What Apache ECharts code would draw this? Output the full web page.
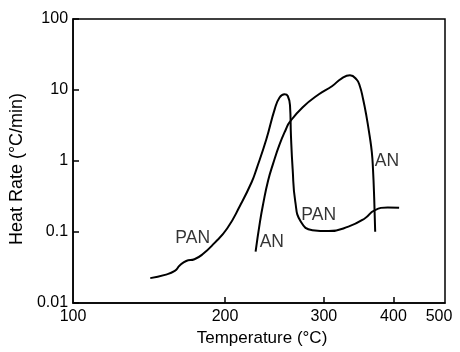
<!DOCTYPE html>
<html>
<head>
<meta charset="utf-8">
<script src="https://cdn.jsdelivr.net/npm/echarts@6/dist/echarts.min.js"></script>
<style>
  html, body { margin: 0; padding: 0; background: #fff; }
  #chart { width: 460px; height: 352px; }
</style>
</head>
<body>
<div id="chart"></div>
<script>
// temperature axis is reciprocal (1/K), labels in degC
const xTicks = [100, 200, 300, 400, 500];
const yTicks = [0.01, 0.1, 1, 10, 100];

const panTemp = [144.9, 154.7, 161.5, 165.0, 169.7, 175.8, 182.0, 191.1, 201.8, 213.1, 223.4, 227.9, 237.3, 245.5, 250.4, 255.5, 258.9, 261.3, 262.3, 264.1, 267.0, 273.1, 286.2, 306.0, 331.6, 354.7, 369.5, 390.4, 409.7];
const panRate = [0.0224, 0.0249, 0.0283, 0.0337, 0.0391, 0.0413, 0.0485, 0.0692, 0.112, 0.238, 0.506, 0.776, 2.04, 5.37, 7.83, 8.71, 8.24, 5.97, 2.27, 0.776, 0.266, 0.139, 0.106, 0.103, 0.119, 0.155, 0.202, 0.221, 0.219];

const anTemp = [227.0, 231.1, 234.2, 238.9, 243.8, 250.4, 257.1, 260.7, 274.9, 293.9, 310.0, 322.8, 333.8, 342.9, 347.6, 352.4, 357.2, 362.0, 365.3, 367.1, 369.0, 370.5];
const anRate = [0.053, 0.139, 0.251, 0.527, 0.912, 1.71, 2.82, 3.50, 5.68, 8.71, 11.3, 14.6, 16.1, 14.1, 11.4, 7.41, 4.33, 2.27, 1.34, 0.776, 0.295, 0.101];

const labelNames = ['PAN', 'AN', 'PAN', 'AN'];
const labelTemp = [174.5, 242.6, 293.7, 389.3];
const labelRate = [0.083, 0.072, 0.172, 1.01];

// -1000/T(K) so temperature grows to the right
const toX = (t) => -1000 / (t + 273.15);
const toT = (x) => Math.round(-1000 / x - 273.15);

const pairs = (ts, vs) => ts.map((t, i) => [toX(t), vs[i]]);

const chart = echarts.init(document.getElementById('chart'));
const ink = '#000';
const font = '"Liberation Sans", Arial, sans-serif';

const option = {
  animation: false,
  grid: {
    left: 66, right: 15, top: 19, bottom: 47,
    show: true, borderColor: ink, borderWidth: 1.5
  },
  xAxis: {
    type: 'value',
    min: toX(xTicks[0]),
    max: toX(xTicks[xTicks.length - 1]),
    name: 'Temperature (°C)',
    nameLocation: 'middle',
    nameGap: 27,
    nameTextStyle: { color: ink, fontSize: 17, fontFamily: font, padding: [0, 0, 0, 6] },
    axisLine: { lineStyle: { color: ink, width: 1.5 } },
    axisTick: { inside: true, length: 6, lineStyle: { color: ink, width: 1.5 },
      customValues: xTicks.slice(1, -1).map(toX) },
    axisLabel: {
      customValues: xTicks.map(toX),
      formatter: (v) => {
        const t = toT(v);
        if (t === xTicks[xTicks.length - 1]) return '{last|' + t + '}';
        return String(t);
      },
      rich: {
        last: { color: ink, fontSize: 16, fontFamily: font, padding: [0, 12, 0, 0] }
      },
      color: ink, fontSize: 16, fontFamily: font, margin: 6
    },
    splitLine: { show: false }
  },
  yAxis: {
    type: 'log',
    logBase: 10,
    min: yTicks[0],
    max: yTicks[yTicks.length - 1],
    name: 'Heat Rate (°C/min)',
    nameLocation: 'middle',
    nameGap: 36,
    nameTextStyle: { color: ink, fontSize: 18, fontFamily: font, padding: [0, 16, 0, 0] },
    axisLine: { lineStyle: { color: ink, width: 1.5 } },
    axisTick: { inside: true, length: 6, lineStyle: { color: ink, width: 1.5 } },
    axisLabel: {
      color: ink, fontSize: 16, fontFamily: font, margin: 5,
      formatter: (v) => String(v)
    },
    splitLine: { show: false }
  },
  series: [
    {
      name: 'PAN',
      type: 'line',
      data: pairs(panTemp, panRate),
      showSymbol: false,
      smooth: 0.5,
      lineStyle: { color: ink, width: 2 }
    },
    {
      name: 'AN',
      type: 'line',
      data: pairs(anTemp, anRate),
      showSymbol: false,
      smooth: 0.5,
      lineStyle: { color: ink, width: 2 }
    },
    {
      type: 'scatter',
      symbolSize: 0,
      silent: true,
      data: labelNames.map((n, i) => ({ name: n, value: [toX(labelTemp[i]), labelRate[i]] })),
      label: {
        show: true, position: 'inside', formatter: '{b}',
        color: ink, fontSize: 17.5, fontFamily: font
      }
    }
  ]
};

chart.setOption(option);
</script>
</body>
</html>
